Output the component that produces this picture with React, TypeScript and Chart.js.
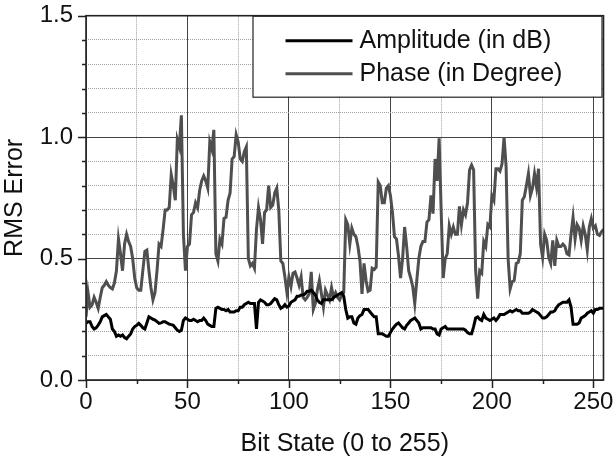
import React, { useEffect, useRef } from "react";
import { Chart, registerables } from "chart.js";

Chart.register(...registerables);

// ---- data ----
const bitStates: number[] = Array.from({ length: 256 }, (_, i) => i);

const amplitudeDb: number[] = [
  0.233, 0.24, 0.24, 0.22, 0.21, 0.215, 0.226, 0.24, 0.26, 0.265, 0.27, 0.26, 0.25, 0.21, 0.2, 0.18,
  0.185, 0.18, 0.185, 0.175, 0.17, 0.18, 0.19, 0.21, 0.22, 0.225, 0.233, 0.225, 0.215, 0.21, 0.235, 0.26,
  0.255, 0.25, 0.247, 0.24, 0.233, 0.235, 0.24, 0.24, 0.235, 0.23, 0.228, 0.225, 0.215, 0.205, 0.2, 0.205,
  0.245, 0.255, 0.25, 0.245, 0.245, 0.25, 0.245, 0.24, 0.245, 0.245, 0.255, 0.245, 0.23, 0.225, 0.22, 0.22,
  0.295, 0.3, 0.295, 0.29, 0.29, 0.285, 0.29, 0.28, 0.28, 0.28, 0.285, 0.285, 0.3, 0.3, 0.31, 0.315,
  0.32, 0.315, 0.315, 0.315, 0.21, 0.32, 0.33, 0.325, 0.32, 0.31, 0.31, 0.315, 0.325, 0.335, 0.33, 0.31,
  0.295, 0.3, 0.31, 0.3, 0.305, 0.32, 0.325, 0.33, 0.345, 0.345, 0.35, 0.35, 0.355, 0.365, 0.365, 0.37,
  0.36, 0.35, 0.33, 0.32, 0.315, 0.33, 0.33, 0.33, 0.33, 0.33, 0.34, 0.345, 0.35, 0.355, 0.36, 0.345,
  0.29, 0.255, 0.26, 0.26, 0.235, 0.23, 0.255, 0.265, 0.27, 0.29, 0.29, 0.29, 0.28, 0.27, 0.26, 0.26,
  0.19, 0.19, 0.19, 0.185, 0.18, 0.18, 0.195, 0.21, 0.22, 0.23, 0.235, 0.225, 0.215, 0.21, 0.225, 0.235,
  0.245, 0.25, 0.255, 0.245, 0.235, 0.21, 0.215, 0.215, 0.215, 0.215, 0.215, 0.21, 0.21, 0.19, 0.185, 0.21,
  0.215, 0.22, 0.21, 0.21, 0.21, 0.21, 0.21, 0.21, 0.21, 0.21, 0.21, 0.205, 0.195, 0.19, 0.19, 0.22,
  0.255, 0.26, 0.25, 0.245, 0.27, 0.255, 0.25, 0.245, 0.25, 0.255, 0.245, 0.255, 0.27, 0.27, 0.27, 0.275,
  0.28, 0.285, 0.28, 0.285, 0.29, 0.285, 0.285, 0.275, 0.275, 0.275, 0.275, 0.28, 0.29, 0.285, 0.28, 0.275,
  0.265, 0.255, 0.255, 0.26, 0.27, 0.28, 0.28, 0.285, 0.3, 0.31, 0.315, 0.32, 0.32, 0.32, 0.33, 0.3,
  0.23, 0.23, 0.23, 0.235, 0.255, 0.26, 0.265, 0.275, 0.28, 0.285, 0.275, 0.29, 0.29, 0.295, 0.295, 0.295,
];

const phaseDeg: number[] = [
  0.26, 0.36, 0.3, 0.31, 0.34, 0.32, 0.295, 0.34, 0.38, 0.39, 0.405, 0.39, 0.38, 0.375, 0.4, 0.45,
  0.58, 0.52, 0.45, 0.56, 0.6, 0.57, 0.55, 0.5, 0.42, 0.38, 0.37, 0.37, 0.45, 0.53, 0.535, 0.45,
  0.38, 0.33, 0.36, 0.45, 0.56, 0.55, 0.62, 0.7, 0.7, 0.71, 0.845, 0.8, 0.74, 0.99, 0.96, 1.09,
  0.6, 0.45, 0.55, 0.56, 0.68, 0.69, 0.73, 0.71, 0.78, 0.82, 0.84, 0.82, 0.79, 0.98, 0.95, 1.03,
  0.52, 0.49, 0.58, 0.56, 0.665, 0.67, 0.74, 0.77, 0.91, 0.92, 1.01, 0.98, 0.91, 0.9, 0.94, 0.96,
  0.5, 0.47, 0.48, 0.46, 0.62, 0.71, 0.66, 0.56, 0.69, 0.7, 0.8, 0.71, 0.72, 0.77, 0.79, 0.7,
  0.49, 0.48, 0.425, 0.36, 0.425, 0.385, 0.44, 0.445, 0.42, 0.39, 0.425, 0.34, 0.33, 0.34, 0.355, 0.445,
  0.29, 0.315, 0.37, 0.41, 0.355, 0.3, 0.37, 0.35, 0.33, 0.38, 0.34, 0.36, 0.34, 0.33, 0.35, 0.36,
  0.66, 0.64, 0.56, 0.625, 0.6, 0.59, 0.55, 0.49, 0.355, 0.48, 0.41, 0.365, 0.37, 0.46, 0.455, 0.465,
  0.815, 0.8, 0.73, 0.73, 0.79, 0.8, 0.76, 0.69, 0.59, 0.58, 0.51, 0.42, 0.5, 0.63, 0.55, 0.45,
  0.42, 0.385, 0.315, 0.41, 0.5, 0.55, 0.57, 0.57, 0.65, 0.66, 0.76, 0.685, 0.91, 0.82, 0.995, 0.7,
  0.42, 0.5, 0.52, 0.635, 0.6, 0.63, 0.6, 0.6, 0.715, 0.64, 0.7, 0.68, 0.73, 0.865, 0.885, 0.865,
  0.45, 0.335, 0.45, 0.44, 0.57, 0.55, 0.64, 0.63, 0.76, 0.74, 0.87, 0.87, 0.86, 0.89, 1.0, 0.88,
  0.5, 0.375, 0.405, 0.41, 0.48, 0.485, 0.52, 0.74, 0.755, 0.8, 0.85, 0.76, 0.79, 0.85, 0.795, 0.87,
  0.56, 0.505, 0.6, 0.575, 0.505, 0.48, 0.575, 0.47, 0.575, 0.55, 0.55, 0.56, 0.55, 0.52, 0.515, 0.6,
  0.67, 0.58, 0.64, 0.625, 0.575, 0.635, 0.6, 0.535, 0.63, 0.665, 0.625, 0.635, 0.6, 0.595, 0.61, 0.62,
];

const seriesNames: string[] = ["Amplitude (in dB)", "Phase (in Degree)"];
const seriesColors: string[] = ["#000000", "#4f4f4f"];
const xTickLabels: string[] = ["0", "50", "100", "150", "200", "250"];
const yTickLabels: string[] = ["0.0", "0.5", "1.0", "1.5"];
const xTitle = "Bit State (0 to 255)";
const yTitle = "RMS Error";

const FONT = "'Liberation Sans', Arial, Helvetica, sans-serif";

const isMajorX = (v: number) => xTickLabels.includes(String(Math.round(v))) && Math.abs(v - Math.round(v)) < 1e-6;
const isMajorY = (v: number) => {
  const s = v.toFixed(1);
  return yTickLabels.includes(s) && Math.abs(v - parseFloat(s)) < 1e-6;
};

const framePlugin = {
  id: "frameAndLegend",
  afterDraw(chart: any) {
    const { ctx, chartArea } = chart;
    const { left, right, top, bottom } = chartArea;
    const xs = chart.scales.x;
    const ys = chart.scales.y;
    ctx.save();
    // tick marks (major long, minor short), outward
    ctx.strokeStyle = "#222";
    ctx.lineWidth = 1.5;
    ctx.beginPath();
    xs.ticks.forEach((t: any) => {
      const px = Math.round(xs.getPixelForValue(t.value)) + 0.5;
      const len = isMajorX(t.value) ? 8 : 4;
      ctx.moveTo(px, bottom);
      ctx.lineTo(px, bottom + len);
    });
    ys.ticks.forEach((t: any) => {
      const py = Math.round(ys.getPixelForValue(t.value)) + 0.5;
      const len = isMajorY(t.value) ? 8 : 4;
      ctx.moveTo(left, py);
      ctx.lineTo(left - len, py);
    });
    ctx.stroke();

    // legend box
    const lr = right - 2;
    const ll = lr - 349;
    const lt = top;
    const lh = 81;
    ctx.fillStyle = "#ffffff";
    ctx.fillRect(ll, lt, lr - ll, lh);
    ctx.strokeStyle = "#222";
    ctx.lineWidth = 1.2;
    ctx.strokeRect(ll + 0.5, lt + 0.5, lr - ll, lh);
    const rows = [lt + 25, lt + 58];
    seriesNames.forEach((name, i) => {
      ctx.strokeStyle = seriesColors[i];
      ctx.lineWidth = 3;
      ctx.beginPath();
      ctx.moveTo(ll + 33, rows[i]);
      ctx.lineTo(ll + 100, rows[i]);
      ctx.stroke();
      ctx.fillStyle = "#111";
      ctx.font = `25px ${FONT}`;
      ctx.textAlign = "left";
      ctx.textBaseline = "middle";
      ctx.fillText(name, ll + 107, rows[i]);
    });

    // frame
    ctx.strokeStyle = "#222";
    ctx.lineWidth = 1.6;
    ctx.strokeRect(left, top, right - left, bottom - top);
    ctx.restore();
  },
};

export default function App() {
  const canvasRef = useRef<HTMLCanvasElement | null>(null);

  useEffect(() => {
    if (!canvasRef.current) return;
    Chart.defaults.font.family = FONT;
    const chart = new Chart(canvasRef.current, {
      type: "line",
      data: {
        datasets: [
          {
            label: seriesNames[0],
            data: amplitudeDb.map((y, i) => ({ x: bitStates[i], y })),
            borderColor: seriesColors[0],
            borderWidth: 3,
            pointRadius: 0,
            tension: 0,
            fill: false,
          },
          {
            label: seriesNames[1],
            data: phaseDeg.map((y, i) => ({ x: bitStates[i], y })),
            borderColor: seriesColors[1],
            borderWidth: 3,
            pointRadius: 0,
            tension: 0,
            fill: false,
          },
        ],
      },
      options: {
        animation: false,
        responsive: false,
        devicePixelRatio: 1,
        layout: { padding: { left: 0, top: 15.7, right: 12.5, bottom: 0 } },
        plugins: { legend: { display: false }, tooltip: { enabled: false } },
        scales: {
          x: {
            type: "linear",
            min: 0,
            max: 255,
            ticks: {
              stepSize: 25,
              includeBounds: false,
              autoSkip: false,
              maxRotation: 0,
              minRotation: 0,
              padding: 0,
              color: "#111",
              font: { size: 24, family: FONT },
              callback: (v: any) => (isMajorX(Number(v)) ? String(Math.round(Number(v))) : ""),
            },
            grid: {
              drawTicks: true,
              tickLength: 8,
              tickColor: "rgba(0,0,0,0)",
              color: (c: any) => (c.tick && isMajorX(c.tick.value) ? "#444" : "#a0a0a0"),
              lineWidth: 1,
            },
            border: {
              display: false,
              dash: (c: any) => (c.tick && !isMajorX(c.tick.value) ? [1, 1] : []),
            },
            title: {
              display: true,
              text: xTitle,
              color: "#111",
              font: { size: 25, family: FONT },
              padding: { top: 0, bottom: 0 },
            },
            afterFit: (s: any) => {
              s.height = 79;
              s.paddingLeft = 0;
              s.paddingRight = 0;
            },
          },
          y: {
            type: "linear",
            min: 0,
            max: 1.5,
            ticks: {
              stepSize: 0.1,
              autoSkip: false,
              padding: 5,
              color: "#111",
              font: { size: 24, family: FONT },
              callback: (v: any) => (isMajorY(Number(v)) ? Number(v).toFixed(1) : ""),
            },
            grid: {
              drawTicks: true,
              tickLength: 8,
              tickColor: "rgba(0,0,0,0)",
              color: (c: any) => (c.tick && isMajorY(c.tick.value) ? "#444" : "#a0a0a0"),
              lineWidth: 1,
            },
            border: {
              display: false,
              dash: (c: any) => (c.tick && !isMajorY(c.tick.value) ? [1, 1] : []),
            },
            title: {
              display: true,
              text: yTitle,
              color: "#111",
              font: { size: 25, family: FONT },
              padding: { top: 0, bottom: 0 },
            },
            afterFit: (s: any) => {
              s.width = 86;
              s.paddingTop = 0;
              s.paddingBottom = 0;
            },
          },
        },
      },
      plugins: [framePlugin],
    } as any);
    return () => chart.destroy();
  }, []);

  return (
    <div style={{ position: "absolute", left: 0, top: 0, width: 616, height: 459, background: "#fff" }}>
      <canvas ref={canvasRef} width={616} height={459} style={{ display: "block" }} />
    </div>
  );
}
